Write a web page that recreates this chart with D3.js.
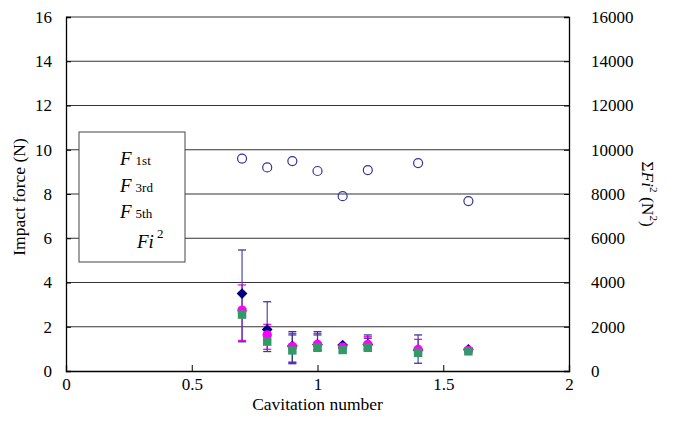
<!DOCTYPE html>
<html>
<head>
<meta charset="utf-8">
<script src="https://cdn.jsdelivr.net/npm/d3@7"></script>
<style>
  body { margin: 0; background: #fff; }
  svg { font-family: 'Liberation Serif', 'Times New Roman', serif; }
</style>
</head>
<body>
<script>
// cavitation numbers
const sigma = [0.7, 0.8, 0.9, 1.0, 1.1, 1.2, 1.4, 1.6];

// impact force (N), left axis
const f1st = [3.5, 1.88, 1.13, 1.2, 1.17, 1.2, 0.95, 0.98];
const f3rd = [2.75, 1.63, 1.1, 1.2, 1.08, 1.2, 0.97, 0.93];
const f5th = [2.55, 1.33, 0.93, 1.06, 0.95, 1.05, 0.82, 0.89];

// error bar ends (null = no bar)
const f1stLo = [1.32, 0.88, 0.33, 0.9, null, 0.95, 0.35, null];
const f1stHi = [5.47, 3.13, 1.78, 1.78, null, 1.63, 1.63, null];
const f3rdLo = [1.38, 0.98, 0.38, 0.95, null, 1.0, 0.8, null];
const f3rdHi = [3.89, 2.11, 1.7, 1.7, null, 1.55, 1.43, null];
const f5thLo = [null, null, 0.4, 0.95, null, 1.0, null, null];
const f5thHi = [null, null, 1.63, 1.63, null, 1.48, null, null];

// sum of Fi^2 (N^2), right axis
const sumFi2 = [9600, 9200, 9490, 9040, 7900, 9080, 9400, 7680];

const xTicks = [0, 0.5, 1, 1.5, 2];
const yTicks = [0, 2, 4, 6, 8, 10, 12, 14, 16];
const y2Ticks = [0, 2000, 4000, 6000, 8000, 10000, 12000, 14000, 16000];

const W = 684, H = 441;
const m = { left: 66, right: 569, top: 17, bottom: 371 };

const svg = d3.select('body').append('svg')
  .attr('width', W).attr('height', H);

const x = d3.scaleLinear().domain([0, 2]).range([m.left, m.right]);
const y = d3.scaleLinear().domain([0, 16]).range([m.bottom, m.top]);
const y2 = d3.scaleLinear().domain([0, 16000]).range([m.bottom, m.top]);

// gridlines
svg.append('g')
  .selectAll('line')
  .data(yTicks.filter((d) => d > 0))
  .join('line')
  .attr('x1', m.left).attr('x2', m.right)
  .attr('y1', (d) => y(d)).attr('y2', (d) => y(d))
  .attr('stroke', '#333').attr('stroke-width', 1.2);

// left axis
const gL = svg.append('g')
  .attr('transform', `translate(${m.left},0)`)
  .call(d3.axisLeft(y).tickValues(yTicks).tickSize(-5).tickPadding(14).tickFormat(d3.format('d')));
// right axis
const gR = svg.append('g')
  .attr('transform', `translate(${m.right},0)`)
  .call(d3.axisRight(y2).tickValues(y2Ticks).tickSize(-5).tickPadding(22).tickFormat(d3.format('d')));
// bottom axis
const gB = svg.append('g')
  .attr('transform', `translate(0,${m.bottom})`)
  .call(d3.axisBottom(x).tickValues(xTicks).tickSize(-6).tickPadding(7).tickFormat(d3.format('')));

[gL, gR, gB].forEach((g) => {
  g.select('.domain').attr('stroke', '#000').attr('stroke-width', 1.3);
  g.selectAll('.tick line').attr('stroke', '#000');
  g.selectAll('.tick text').attr('font-size', 17).attr('fill', '#000')
    .attr('font-family', 'Liberation Serif');
});
gR.selectAll('.tick text').attr('text-anchor', 'start');

// axis titles
svg.append('text')
  .attr('transform', `translate(25,${(m.top + m.bottom) / 2 + 3}) rotate(-90)`)
  .attr('text-anchor', 'middle').attr('font-size', 17.5)
  .text('Impact force (N)');

svg.append('text')
  .attr('x', (m.left + m.right) / 2).attr('y', 410)
  .attr('text-anchor', 'middle').attr('font-size', 17.5)
  .text('Cavitation number');

const rt = svg.append('text')
  .attr('transform', `translate(642,${(m.top + m.bottom) / 2}) rotate(90)`)
  .attr('text-anchor', 'middle').attr('font-size', 17.5);
rt.append('tspan').text('\u03A3');
rt.append('tspan').attr('font-style', 'italic').text('Fi');
rt.append('tspan').attr('font-size', 11).attr('dy', -8).text('2');
rt.append('tspan').attr('dy', 8).text(' (N');
rt.append('tspan').attr('font-size', 11).attr('dy', -8).text('2');
rt.append('tspan').attr('dy', 8).text(')');

// legend box (text only)
svg.append('rect')
  .attr('x', 79).attr('y', 132).attr('width', 106).attr('height', 130)
  .attr('fill', '#fff').attr('stroke', '#444').attr('stroke-width', 1);

const legendRows = [
  { label: 'F', sub: '1st', yy: 165 },
  { label: 'F', sub: '3rd', yy: 192 },
  { label: 'F', sub: '5th', yy: 218 }
];
legendRows.forEach((r) => {
  const t = svg.append('text').attr('x', 120).attr('y', r.yy).attr('font-size', 19);
  t.append('tspan').attr('font-style', 'italic').text(r.label);
  t.append('tspan').attr('font-size', 13).attr('dx', 4).text(r.sub);
});
const tl = svg.append('text').attr('x', 137).attr('y', 248).attr('font-size', 19);
tl.append('tspan').attr('font-style', 'italic').text('Fi');
tl.append('tspan').attr('font-size', 13).attr('dx', 3).attr('dy', -10).text('2');

// error bars first (F3rd underneath F1st), then markers
function drawErrors(lo, hi, errColor) {
  const g = svg.append('g');
  sigma.forEach((s, i) => {
    if (lo[i] == null) return;
    const cx = x(s);
    g.append('line')
      .attr('x1', cx).attr('x2', cx).attr('y1', y(lo[i])).attr('y2', y(hi[i]))
      .attr('stroke', errColor).attr('stroke-width', 1.1);
    [lo[i], hi[i]].forEach((v) => {
      g.append('line')
        .attr('x1', cx - 4).attr('x2', cx + 4).attr('y1', y(v)).attr('y2', y(v))
        .attr('stroke', errColor).attr('stroke-width', 1.3);
    });
  });
}

function drawMarkers(vals, color, shape, size, rot) {
  svg.append('g')
    .selectAll('path')
    .data(vals)
    .join('path')
    .attr('transform', (d, i) => `translate(${x(sigma[i])},${y(d)}) rotate(${rot})`)
    .attr('d', d3.symbol().type(shape).size(size))
    .attr('fill', color);
}

drawErrors(f3rdLo, f3rdHi, '#ff00ff');
drawErrors(f5thLo, f5thHi, '#3a3a9a');
drawErrors(f1stLo, f1stHi, '#3a3a9a');

drawMarkers(f1st, '#000080', d3.symbolSquare, 58, 45);
drawMarkers(f3rd, '#ff00ff', d3.symbolCircle, 70, 0);
drawMarkers(f5th, '#339966', d3.symbolSquare, 72, 0);

// sum Fi^2 open circles
svg.append('g')
  .selectAll('circle')
  .data(sumFi2)
  .join('circle')
  .attr('cx', (d, i) => x(sigma[i]))
  .attr('cy', (d) => y2(d))
  .attr('r', 4.5)
  .attr('fill', 'none')
  .attr('stroke', '#333399')
  .attr('stroke-width', 1.2);
</script>
</body>
</html>
